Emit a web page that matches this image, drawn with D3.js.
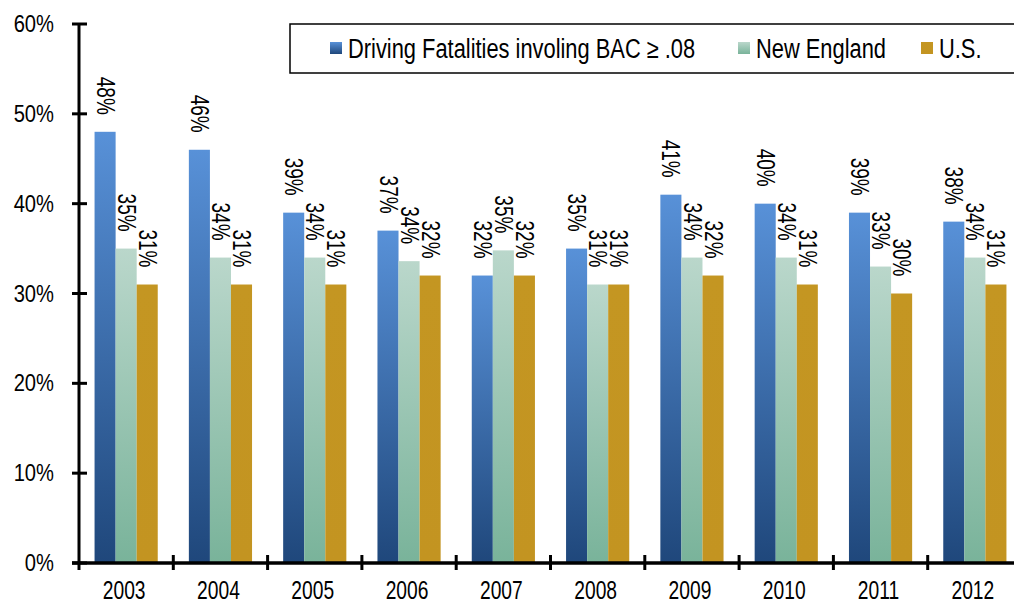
<!DOCTYPE html>
<html>
<head>
<meta charset="utf-8">
<script src="https://cdn.jsdelivr.net/npm/d3@7"></script>
<style>
  body { margin: 0; background: #fff; }
  text { font-family: "Liberation Sans Narrow", "Arial Narrow", "Liberation Sans", sans-serif; fill: #000; }
</style>
</head>
<body>
<svg id="chart" width="1014" height="605"></svg>
<script>

// Chart data
const years = ["2003", "2004", "2005", "2006", "2007", "2008", "2009", "2010", "2011", "2012"];
const seriesNames = ["Driving Fatalities involing BAC \u2265 .08", "New England", "U.S."];
const bacValues = [48, 46, 39, 37, 32, 35, 41, 40, 39, 38];
const newEnglandValues = [35, 34, 34, 33.6, 34.8, 31, 34, 34, 33, 34];
const usValues = [31, 31, 31, 32, 32, 31, 32, 31, 30, 31];
const yTicks = [0, 10, 20, 30, 40, 50, 60];

const series = [bacValues, newEnglandValues, usValues];

const svg = d3.select("#chart");

const plotLeft = 79, plotRight = 1022, plotTop = 24, plotBottom = 563;

// no narrow font installed, so squeeze the regular one
const narrow = 0.84;

const x0 = d3.scaleBand()
	.domain(years)
	.range([plotLeft, plotRight])
	.paddingInner(0)
	.paddingOuter(0);

// bars take up 2/3 of each category, centred
const groupWidth = x0.bandwidth() * 0.67;
const x1 = d3.scaleBand()
	.domain(d3.range(series.length))
	.range([0, groupWidth]);

const y = d3.scaleLinear()
	.domain([0, 60])
	.range([plotBottom, plotTop]);

// Gradients
const defs = svg.append("defs");
const grads = [
	{ id: "g-blue", top: "#5891d8", bottom: "#1f477b" },
	{ id: "g-green", top: "#bad7cb", bottom: "#79b39a" },
	{ id: "g-gold", top: "#c49622", bottom: "#c39421" }
];
grads.forEach(g => {
	const lg = defs.append("linearGradient")
		.attr("id", g.id)
		.attr("x1", 0).attr("y1", 0)
		.attr("x2", 0).attr("y2", 1);
	lg.append("stop").attr("offset", "0%").attr("stop-color", g.top);
	lg.append("stop").attr("offset", "100%").attr("stop-color", g.bottom);
});

// Bars
const groups = svg.append("g")
	.selectAll("g")
	.data(years)
	.join("g")
	.attr("transform", d => "translate(" + (x0(d) + (x0.bandwidth() - groupWidth) / 2) + ",0)");

groups.selectAll("rect")
	.data((d, i) => series.map((s, k) => ({ k: k, v: s[i] })))
	.join("rect")
	.attr("x", d => x1(d.k))
	.attr("y", d => y(d.v))
	.attr("width", x1.bandwidth())
	.attr("height", d => y(0) - y(d.v))
	.attr("fill", d => "url(#" + grads[d.k].id + ")");

// Value labels, rotated
groups.selectAll("text")
	.data((d, i) => series.map((s, k) => ({ k: k, v: s[i] })))
	.join("text")
	.attr("transform", d => "translate(" + (x1(d.k) + x1.bandwidth() / 2) + "," + (y(d.v) - 17) + ") rotate(90) scale(0.76,1)")
	.attr("text-anchor", "end")
	.attr("dominant-baseline", "central")
	.style("font-size", "25px")
	.text(d => Math.round(d.v) + "%");

// Y axis
const yAxis = svg.append("g");
yAxis.append("line")
	.attr("x1", plotLeft).attr("x2", plotLeft)
	.attr("y1", y(60)).attr("y2", y(0))
	.attr("stroke", "#000").attr("stroke-width", 3);
yAxis.selectAll(".tick")
	.data(yTicks)
	.join("line")
	.attr("x1", plotLeft - 7).attr("x2", plotLeft + 8)
	.attr("y1", d => y(d)).attr("y2", d => y(d))
	.attr("stroke", "#000").attr("stroke-width", 3);
yAxis.selectAll("text")
	.data(yTicks)
	.join("text")
	.attr("transform", d => "translate(54," + y(d) + ") scale(" + narrow + ",1)")
	.attr("text-anchor", "end")
	.attr("dominant-baseline", "central")
	.style("font-size", "24px")
	.text(d => d + "%");

// X axis
const xAxis = svg.append("g");
xAxis.append("line")
	.attr("x1", plotLeft - 7).attr("x2", plotRight)
	.attr("y1", y(0)).attr("y2", y(0))
	.attr("stroke", "#000").attr("stroke-width", 3.5);
xAxis.selectAll(".tick")
	.data(years.slice(1))
	.join("line")
	.attr("x1", d => x0(d)).attr("x2", d => x0(d))
	.attr("y1", y(0) - 8).attr("y2", y(0) + 7)
	.attr("stroke", "#000").attr("stroke-width", 3);
xAxis.append("line")
	.attr("x1", plotLeft).attr("x2", plotLeft)
	.attr("y1", y(0)).attr("y2", y(0) + 7)
	.attr("stroke", "#000").attr("stroke-width", 3);
xAxis.selectAll("text")
	.data(years)
	.join("text")
	.attr("transform", d => "translate(" + (x0(d) + x0.bandwidth() / 2 - 2) + ",599) scale(0.74,1)")
	.attr("text-anchor", "middle")
	.style("font-size", "26px")
	.text(d => d);

// Legend
const legend = svg.append("g");
legend.append("rect")
	.attr("x", 290).attr("y", 24)
	.attr("width", 727).attr("height", 49)
	.attr("fill", "#fff")
	.attr("stroke", "#000").attr("stroke-width", 1.5);

const legendX = [330, 738, 921];
const items = legend.selectAll(".item")
	.data(seriesNames)
	.join("g")
	.attr("transform", (d, i) => "translate(" + legendX[i] + ",48)");
items.append("rect")
	.attr("x", 0).attr("y", -6)
	.attr("width", 12).attr("height", 12)
	.attr("fill", (d, i) => "url(#" + grads[i].id + ")");
items.append("text")
	.attr("transform", "translate(18,1) scale(0.81,1)")
	.attr("dominant-baseline", "central")
	.style("font-size", "27px")
	.text(d => d);

</script>
</body>
</html>
